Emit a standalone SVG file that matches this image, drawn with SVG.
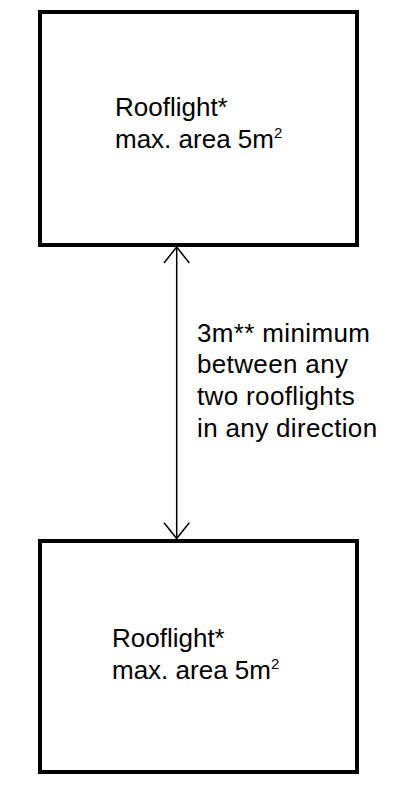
<svg xmlns="http://www.w3.org/2000/svg" width="400" height="792" viewBox="0 0 400 792">
<defs>
<style>
.box{fill:#fff;stroke:#000;stroke-width:4}
.t{font-family:"Liberation Sans",Arial,Helvetica,sans-serif;font-size:26px;fill:#000}
.ls{letter-spacing:0.35px}
.sup{font-size:15px}
.c{stroke:#000;stroke-width:1.5;fill:none}
</style>
</defs>
<rect width="400" height="792" fill="#fff"/>
<g id="rooflight-top">
<rect class="box" x="40" y="12" width="317" height="233"/>
<text class="t" x="115" y="116">Rooflight*</text>
<text class="t" x="115" y="148">max. area 5m<tspan class="sup" dy="-10">2</tspan></text>
</g>
<g id="rooflight-bottom">
<rect class="box" x="40" y="541" width="317" height="231"/>
<text class="t" x="112" y="647">Rooflight*</text>
<text class="t" x="112" y="679">max. area 5m<tspan class="sup" dy="-10">2</tspan></text>
</g>
<g id="connectors">
<line class="c" x1="176.7" y1="247" x2="176.7" y2="538"/>
<polyline class="c" points="164,263 176.7,247 189.3,263"/>
<polyline class="c" points="164,522.7 176.7,538.5 189.3,522.7"/>
</g>
<g id="label">
<text class="t ls" x="197" y="342">3m** minimum</text>
<text class="t ls" x="197" y="373">between any</text>
<text class="t ls" x="197" y="405">two rooflights</text>
<text class="t ls" x="197" y="437">in any direction</text>
</g>
</svg>
